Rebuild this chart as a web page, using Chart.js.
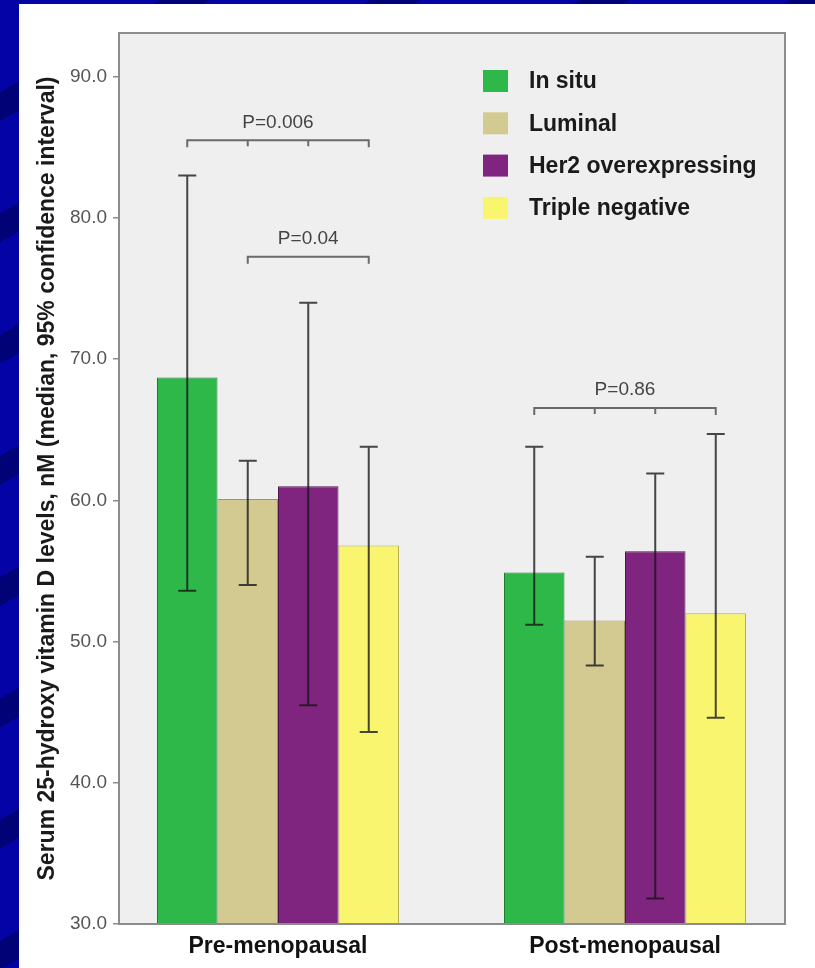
<!DOCTYPE html>
<html>
<head>
<meta charset="utf-8">
<script src="https://cdn.jsdelivr.net/npm/chart.js@4/dist/chart.umd.min.js"></script>
<style>
  html, body { margin: 0; padding: 0; width: 815px; height: 968px; overflow: hidden; }
  body {
    background-color: #0404a6;
    background-image: repeating-linear-gradient(150deg, rgba(0,0,50,0) 0px, rgba(0,0,50,0) 80px, rgba(0,0,50,0.4) 80px, rgba(0,0,50,0.4) 105px);
  }
  #panel { position: absolute; left: 19px; top: 4px; width: 796px; height: 964px; background: #ffffff; }
  canvas { display: block; }
</style>
</head>
<body>
<div id="panel"><canvas id="chart" width="796" height="964"></canvas></div>
<script>
// Median serum 25-hydroxy vitamin D (nM) by tumour subtype and menopausal status
const categories = ['Pre-menopausal', 'Post-menopausal'];
const seriesNames = ['In situ', 'Luminal', 'Her2 overexpressing', 'Triple negative'];

const inSitu    = [68.7, 54.9];
const luminal   = [60.1, 51.5];
const her2      = [61.0, 56.4];
const tripleNeg = [56.8, 52.0];

// 95% confidence intervals, [lower, upper] per menopausal group
const inSituCI    = [[53.6, 83.0], [51.2, 63.8]];
const luminalCI   = [[54.0, 62.8], [48.3, 56.0]];
const her2CI      = [[45.5, 74.0], [31.8, 61.9]];
const tripleNegCI = [[43.6, 63.8], [44.6, 64.7]];

const yTicks = [30, 40, 50, 60, 70, 80, 90];

// Significance brackets: group, first and last series, height (nM), label, intermediate ticks
const comparisons = [
  { group: 0, from: 0, to: 3, level: 85.5,  label: 'P=0.006', inner: [1, 2] },
  { group: 0, from: 1, to: 3, level: 77.25, label: 'P=0.04',  inner: [] },
  { group: 1, from: 0, to: 3, level: 66.55, label: 'P=0.86',  inner: [1, 2] }
];

const seriesValues = [inSitu, luminal, her2, tripleNeg];
const seriesCI = [inSituCI, luminalCI, her2CI, tripleNegCI];
const fillColors = ['#2fb84a', '#d3ca91', '#80257f', '#f9f56e'];
const edgeColors = ['#217a35', '#9d9566', '#4e174d', '#b5b150'];

const FONT = '"Liberation Sans", Arial, Helvetica, sans-serif';

const plotBackground = {
  id: 'plotBackground',
  beforeDraw(chart) {
    const { ctx, chartArea: a } = chart;
    ctx.save();
    ctx.fillStyle = '#efefef';
    ctx.fillRect(a.left, a.top, a.right - a.left, a.bottom - a.top);
    ctx.restore();
  }
};

const errorBars = {
  id: 'errorBars',
  afterDatasetsDraw(chart) {
    const { ctx } = chart;
    const y = chart.scales.y;
    ctx.save();
    ctx.strokeStyle = 'rgba(20,20,20,0.78)';
    ctx.lineWidth = 2;
    seriesCI.forEach((ci, d) => {
      const meta = chart.getDatasetMeta(d);
      ci.forEach(([lo, hi], g) => {
        const x = meta.data[g].x;
        const yLo = y.getPixelForValue(lo);
        const yHi = y.getPixelForValue(hi);
        ctx.beginPath();
        ctx.moveTo(x, yLo); ctx.lineTo(x, yHi);
        ctx.moveTo(x - 9, yHi); ctx.lineTo(x + 9, yHi);
        ctx.moveTo(x - 9, yLo); ctx.lineTo(x + 9, yLo);
        ctx.stroke();
      });
    });
    ctx.restore();
  }
};

const brackets = {
  id: 'brackets',
  afterDatasetsDraw(chart) {
    const { ctx } = chart;
    const y = chart.scales.y;
    ctx.save();
    ctx.strokeStyle = '#6a6a6a';
    ctx.lineWidth = 2;
    ctx.fillStyle = '#444444';
    ctx.font = '19px ' + FONT;
    ctx.textAlign = 'center';
    ctx.textBaseline = 'middle';
    comparisons.forEach(c => {
      const x0 = chart.getDatasetMeta(c.from).data[c.group].x;
      const x1 = chart.getDatasetMeta(c.to).data[c.group].x;
      const yb = y.getPixelForValue(c.level);
      ctx.beginPath();
      ctx.moveTo(x0, yb + 7); ctx.lineTo(x0, yb); ctx.lineTo(x1, yb); ctx.lineTo(x1, yb + 7);
      c.inner.forEach(d => {
        const xi = chart.getDatasetMeta(d).data[c.group].x;
        ctx.moveTo(xi, yb); ctx.lineTo(xi, yb + 6);
      });
      ctx.stroke();
      ctx.fillText(c.label, (x0 + x1) / 2, yb - 18);
    });
    ctx.restore();
  }
};

const boxLegend = {
  id: 'boxLegend',
  afterDraw(chart) {
    const { ctx, chartArea: a } = chart;
    ctx.save();
    ctx.font = 'bold 23px ' + FONT;
    ctx.textAlign = 'left';
    ctx.textBaseline = 'middle';
    chart.data.datasets.forEach((ds, i) => {
      const cy = a.top + 48 + i * 42.3;
      ctx.fillStyle = ds.backgroundColor;
      ctx.fillRect(a.left + 364, cy - 11, 25, 22);
      ctx.fillStyle = '#1a1a1a';
      ctx.fillText(ds.label, a.left + 410, cy + 1);
    });
    ctx.restore();
  }
};

const plotFrame = {
  id: 'plotFrame',
  afterDraw(chart) {
    const { ctx, chartArea: a } = chart;
    ctx.save();
    ctx.strokeStyle = '#8c8c8c';
    ctx.lineWidth = 2;
    ctx.strokeRect(a.left, a.top, a.right - a.left, a.bottom - a.top);
    ctx.restore();
  }
};

new Chart(document.getElementById('chart'), {
  type: 'bar',
  data: {
    datasets: seriesNames.map((name, i) => ({
      label: name,
      data: seriesValues[i].map((v, g) => ({ x: g, y: v })),
      backgroundColor: fillColors[i],
      borderColor: edgeColors[i],
      borderWidth: 1
    }))
  },
  options: {
    responsive: false,
    animation: false,
    events: [],
    layout: { padding: { left: 0, top: 29, right: 30, bottom: 0 } },
    datasets: { bar: { categoryPercentage: 0.6974, barPercentage: 1 } },
    plugins: { legend: { display: false }, tooltip: { enabled: false } },
    scales: {
      x: {
        type: 'linear',
        offset: false,
        min: -0.4582,
        max: 1.4611,
        afterBuildTicks: s => { s.ticks = categories.map((c, i) => ({ value: i })); },
        afterFit: s => { s.height = 44; },
        grid: { display: false, drawTicks: false },
        border: { display: false },
        ticks: {
          padding: 9,
          maxRotation: 0,
          autoSkip: false,
          color: '#111111',
          font: { family: FONT, size: 23, weight: 'bold' },
          callback: v => categories[v]
        }
      },
      y: {
        min: 30,
        max: 93.1,
        afterBuildTicks: s => { s.ticks = yTicks.map(v => ({ value: v })); },
        afterFit: s => { s.width = 100; },
        grid: { drawOnChartArea: false, drawTicks: true, tickLength: 6, color: '#8c8c8c', lineWidth: 1.5 },
        border: { display: false },
        ticks: {
          padding: 6,
          color: '#555555',
          font: { family: FONT, size: 19 },
          callback: v => Number(v).toFixed(1)
        },
        title: {
          display: true,
          text: 'Serum 25-hydroxy vitamin D levels, nM (median, 95% confidence interval)',
          color: '#1a1a1a',
          font: { family: FONT, size: 23, weight: 'bold' },
          padding: { top: 15, bottom: 0 }
        }
      }
    }
  },
  plugins: [plotBackground, errorBars, brackets, boxLegend, plotFrame]
});
</script>
</body>
</html>
